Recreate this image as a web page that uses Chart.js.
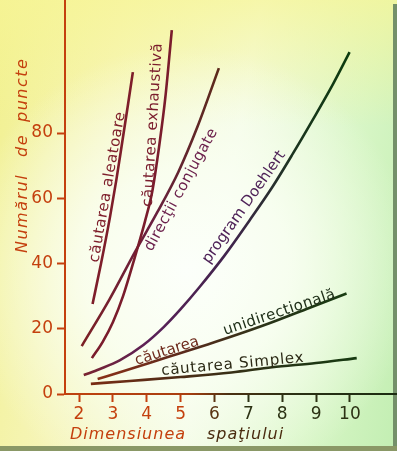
<!DOCTYPE html>
<html>
<head>
<meta charset="utf-8">
<script src="https://cdn.jsdelivr.net/npm/chart.js@4/dist/chart.umd.min.js"></script>
<style>
  html,body{margin:0;padding:0;}
  body{width:397px;height:451px;overflow:hidden;position:relative;
    background:
      radial-gradient(ellipse 58% 50% at 47% 60%, rgba(252,255,250,1) 0%, rgba(250,255,244,0.85) 45%, rgba(250,255,244,0) 100%),
      linear-gradient(to bottom, rgba(247,245,150,0.75) 0%, rgba(247,245,150,0) 28%),
      linear-gradient(100deg, #f1f08e 0%, #f6f5b8 26%, #f3fbe4 55%, #d8f6c6 80%, #c2eeb2 100%);
  }
  #wrap{position:absolute;left:0;top:0;width:397px;height:451px;}
  .edgeR{position:absolute;right:0;top:4px;width:4px;height:447px;background:#74906a;}
  .edgeB{position:absolute;left:0;bottom:0;width:397px;height:5px;background:#8a9866;}
  canvas{position:absolute;left:0;top:0;}
</style>
</head>
<body>
<div id="wrap">
  <div class="edgeR"></div>
  <div class="edgeB"></div>
  <canvas id="c" width="397" height="451"></canvas>
</div>
<script>
// ticks
const xTicks = [2, 3, 4, 5, 6, 7, 8, 9, 10];
const yTicks = [0, 20, 40, 60, 80];

// curves (x = dimensiunea spatiului, y = numarul de puncte)
const aleatoareX = [2.40, 2.65, 2.91, 3.10, 3.28, 3.45, 3.59];
const aleatoareY = [27.6, 40, 54, 65.5, 77.5, 89, 98.7];

const exhaustivX = [2.38, 2.70, 3.00, 3.30, 3.65, 3.95, 4.17, 4.38, 4.55, 4.74];
const exhaustivY = [11, 16, 22, 30, 42, 53, 62.5, 77, 91, 111.6];

const conjugateX = [2.08, 2.90, 3.65, 4.30, 4.93, 5.50, 6.13];
const conjugateY = [14.7, 29, 43.5, 55.5, 68, 82, 99.9];

const doehlertX = [2.14, 2.60, 3.20, 3.90, 4.50, 5.00, 5.56, 6.30, 7.04, 7.70, 8.31, 8.91, 9.50, 9.99];
const doehlertY = [5.8, 7.6, 10.3, 15.0, 20.5, 26.0, 32.8, 42.5, 53.3, 63.3, 73.6, 84.2, 95.0, 104.8];

const unidirX = [2.55, 3.30, 4.10, 4.98, 5.80, 6.70, 7.60, 8.70, 9.90];
const unidirY = [4.6, 7.0, 9.6, 12.5, 15.2, 18.3, 21.6, 26.0, 30.8];

const simplexX = [2.35, 3.50, 5.00, 6.50, 7.70, 9.00, 10.20];
const simplexY = [3.1, 4.0, 5.2, 6.6, 8.2, 9.5, 11.0];

// labels written along the curves (anchor in data units, angle in degrees)
const curveLabels = [
  {text:'căutarea aleatoare',   x:2.57, y:40.2, angle:-80,  color:'#7e1e2a', sp:0.6},
  {text:'căutarea exhaustivă',  x:4.15, y:57.3, angle:-86.5,color:'#7a1c2c', sp:0.6},
  {text:'direcţii conjugate',   x:4.15, y:43.5, angle:-61.5,color:'#6a1e4a', sp:0.4},
  {text:'program Doehlert',     x:5.84, y:39.8, angle:-55,  color:'#4e2258', sp:0},
  {text:'căutarea',             x:3.70, y:8.9,  angle:-17.5,color:'#6e2a1c', sp:0},
  {text:'unidirecţională',      x:6.31, y:18.1, angle:-18.5,color:'#20301a', sp:0.4},
  {text:'căutarea Simplex',     x:4.44, y:5.8,  angle:-5.3, color:'#2c2a16', sp:0.8}
];

const ORANGE = '#c4400e';
const DARK = '#2c3214';

function pts(xs, ys){ return xs.map((x,i)=>({x, y: ys[i]})); }

const canvas = document.getElementById('c');
const g = canvas.getContext('2d');
function grad(x0, x1, stops){
  const gr = g.createLinearGradient(x0, 0, x1, 0);
  stops.forEach(s=>gr.addColorStop(s[0], s[1]));
  return gr;
}
const xAxisGrad = grad(60, 397, [[0,'#c0420e'],[0.38,'#a83e10'],[0.5,'#4a3012'],[0.7,'#2a3014'],[1,'#1a2c10']]);
const doehlertGrad = grad(84, 350, [[0,'#7a2430'],[0.25,'#5a2058'],[0.55,'#40244c'],[0.78,'#1c3420'],[1,'#0c3c0e']]);
const unidirGrad = grad(98, 346, [[0,'#8a3018'],[0.35,'#5a2a1c'],[0.7,'#283418'],[1,'#183c12']]);
const simplexGrad = grad(91, 357, [[0,'#7a2c14'],[0.35,'#4a2c16'],[0.7,'#263416'],[1,'#163a10']]);
const conjGrad = grad(82, 219, [[0,'#7c2024'],[0.5,'#6a2040'],[1,'#5c2a1a']]);

const textPlugin = {
  id: 'textPlugin',
  afterDatasetsDraw(chart){
    const {ctx, scales:{x, y}} = chart;
    ctx.save();
    ctx.textAlign = 'left';
    ctx.textBaseline = 'alphabetic';
    // labels on the curves
    curveLabels.forEach(l=>{
      ctx.save();
      ctx.translate(x.getPixelForValue(l.x), y.getPixelForValue(l.y));
      ctx.rotate(l.angle * Math.PI / 180);
      ctx.font = '15px "DejaVu Sans"';
      ctx.letterSpacing = l.sp + 'px';
      ctx.fillStyle = l.color;
      ctx.fillText(l.text, 0, 0);
      ctx.restore();
    });
    // axis titles
    ctx.font = 'italic 16px "DejaVu Sans"';
    ctx.letterSpacing = '1px';
    ctx.fillStyle = ORANGE;
    ctx.fillText('Dimensiunea', 70, 439);
    ctx.fillStyle = '#4a2c10';
    ctx.fillText('spaţiului', 207, 439);
    ctx.save();
    ctx.translate(27, 0);
    ctx.rotate(-Math.PI / 2);
    ctx.fillStyle = ORANGE;
    ctx.letterSpacing = '1.5px';
    ctx.fillText('Numărul', -253, 0);
    ctx.fillText('de', -157, 0);
    ctx.fillText('puncte', -122, 0);
    ctx.restore();
    ctx.restore();
  }
};

const xColor = c => (c.tick && c.tick.value <= 5) ? ORANGE : (c.tick && c.tick.value === 6 ? '#5a3412' : DARK);

new Chart(canvas, {
  type: 'line',
  data: {
    datasets: [
      {data: pts(aleatoareX, aleatoareY), borderColor:'#7e1e2a'},
      {data: pts(exhaustivX, exhaustivY), borderColor:'#7a1c2c'},
      {data: pts(conjugateX, conjugateY), borderColor: conjGrad},
      {data: pts(doehlertX, doehlertY), borderColor: doehlertGrad},
      {data: pts(unidirX, unidirY), borderColor: unidirGrad},
      {data: pts(simplexX, simplexY), borderColor: simplexGrad}
    ].map(d=>Object.assign(d, {borderWidth:2.6, pointRadius:0, fill:false, cubicInterpolationMode:'monotone'}))
  },
  options: {
    responsive: false,
    animation: false,
    events: [],
    layout: {padding: 0},
    plugins: {legend:{display:false}, tooltip:{enabled:false}},
    scales: {
      x: {
        type: 'linear', bounds: 'data', min: 1.586, max: 11.39,
        afterBuildTicks: s => { s.ticks = xTicks.map(v=>({value:v})); },
        afterFit: s => { s.height = 57; s.paddingLeft = 0; s.paddingRight = 0; },
        grid: {drawOnChartArea:false, tickLength:8, tickWidth:2, tickColor: xColor},
        border: {color: xAxisGrad, width: 2},
        ticks: {color: xColor, padding: 2, font:{family:'DejaVu Sans', size:17}}
      },
      y: {
        type: 'linear', bounds: 'data', min: 0, max: 120.8,
        afterBuildTicks: s => { s.ticks = yTicks.map(v=>({value:v})); },
        afterFit: s => { s.width = 65; s.paddingTop = 0; s.paddingBottom = 0; },
        grid: {drawOnChartArea:false, tickLength:8, tickWidth:2, tickColor: ORANGE},
        border: {color: ORANGE, width: 2},
        ticks: {color: ORANGE, padding: 4, font:{family:'DejaVu Sans', size:17}}
      }
    }
  },
  plugins: [textPlugin]
});
</script>
</body>
</html>
